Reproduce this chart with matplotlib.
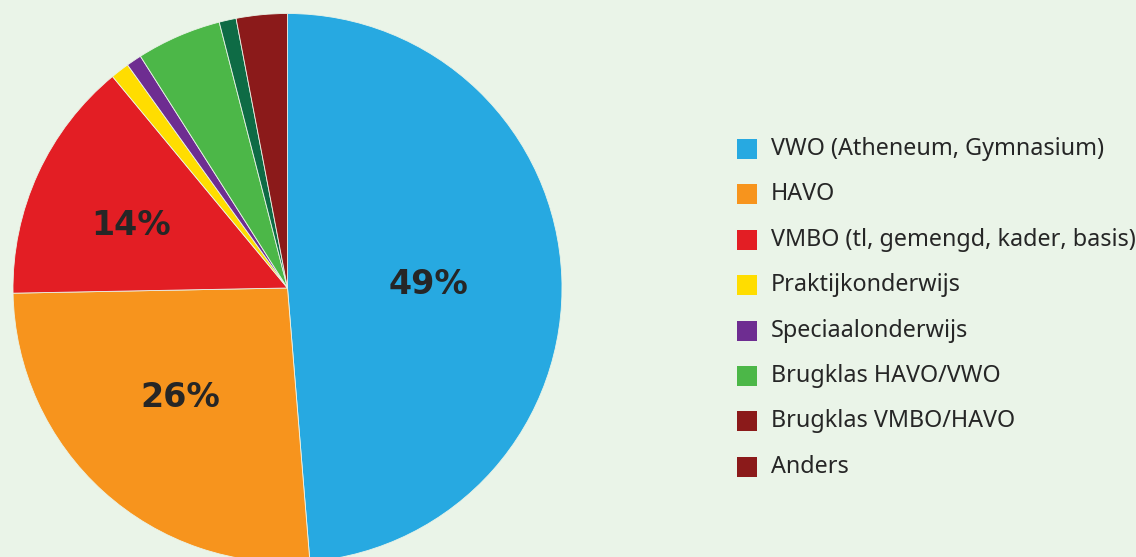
import matplotlib
matplotlib.use("Agg")
import matplotlib.pyplot as plt
import numpy as np
from matplotlib.patches import Rectangle

categories = ["VWO (Atheneum, Gymnasium)", "HAVO", "VMBO (tl, gemengd, kader, basis)",
              "Praktijkonderwijs", "Speciaalonderwijs", "Brugklas HAVO/VWO",
              "Brugklas VMBO/HAVO", "Anders"]
values = [48.7, 26.0, 14.3, 1.1, 0.9, 5.0, 1.0, 3.0]
slice_colors = ["#27A9E1", "#F7941D", "#E31E24", "#FFDD00", "#6E2D91", "#4CB748", "#0E6B45", "#8B1A1A"]
legend_colors = ["#27A9E1", "#F7941D", "#E31E24", "#FFDD00", "#6E2D91", "#4CB748", "#8B1A1A", "#8B1A1A"]
shown_labels = ["49%", "26%", "14%", "", "", "", "", ""]

bg = "#EAF4E8"
W, H = 1136, 557
fig = plt.figure(figsize=(W / 100, H / 100), dpi=100, facecolor=bg)

cx, cy, r = 287.5, 288, 274.5
ax = fig.add_axes([(cx - r) / W, (H - cy - r) / H, 2 * r / W, 2 * r / H])
ax.set_facecolor(bg)
wedges, _ = ax.pie(values, colors=slice_colors, startangle=90, counterclock=False,
                   radius=1.0, wedgeprops=dict(linewidth=0.6, edgecolor="#EAF4E8"))
ax.set_xlim(-1, 1)
ax.set_ylim(-1, 1)
ax.set_aspect("equal")
ax.axis("off")

label_r = [0.514, 0.556, 0.616, 0, 0, 0, 0, 0]
label_dang = [-0.8, -2.3, 2.8, 0, 0, 0, 0, 0]
for w, lab, lr, da in zip(wedges, shown_labels, label_r, label_dang):
    if not lab:
        continue
    ang = np.deg2rad((w.theta1 + w.theta2) / 2 + da)
    ax.text(lr * np.cos(ang), lr * np.sin(ang), lab, ha="center", va="center",
            fontsize=24, fontweight="bold", color="#262626", family="DejaVu Sans")

# legend
y0, dy = 149, 45.4
for i, (lab, col) in enumerate(zip(categories, legend_colors)):
    y = y0 + i * dy
    fig.patches.append(Rectangle((737 / W, (H - y - 10) / H), 20 / W, 20 / H,
                                 transform=fig.transFigure, facecolor=col, edgecolor="none"))
    fig.text(771 / W, (H - y) / H, lab, ha="left", va="center", fontsize=16.8,
             color="#262626", family="Noto Sans")

fig.savefig("out.png", dpi=100, facecolor=bg)
